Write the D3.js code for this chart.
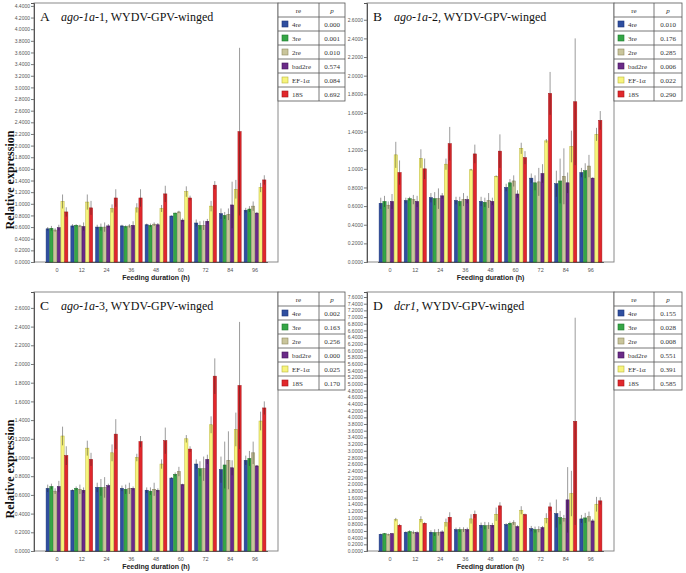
<!DOCTYPE html>
<html>
<head>
<meta charset="utf-8">
<script src="https://cdn.jsdelivr.net/npm/d3@7"></script>
<style>
  body { margin: 0; background: #fff; }
  svg { display: block; }
</style>
</head>
<body>
<svg id="chart" width="686" height="573"></svg>
<script>
// ---------------- DATA ----------------
const timepoints = ["0", "12", "24", "36", "48", "60", "72", "84", "96"];
const referenceGenes = ["4re", "3re", "2re", "bad2re", "EF-1α", "18S"];

// Panel A: ago-1a-1
const meansA = [
  [0.57, 0.58, 0.55, 0.59, 1.04, 0.86],
  [0.62, 0.63, 0.62, 0.61, 1.03, 0.93],
  [0.60, 0.60, 0.60, 0.62, 0.92, 1.10],
  [0.62, 0.61, 0.62, 0.63, 0.93, 1.10],
  [0.64, 0.63, 0.65, 0.64, 0.92, 1.17],
  [0.79, 0.84, 0.86, 0.72, 1.21, 1.10],
  [0.67, 0.63, 0.63, 0.70, 0.96, 1.32],
  [0.83, 0.80, 0.82, 0.98, 1.25, 2.24],
  [0.89, 0.91, 0.96, 0.84, 1.28, 1.41]
];
const errorsA = [
  [0.03, 0.04, 0.03, 0.05, 0.12, 0.08],
  [0.03, 0.02, 0.02, 0.07, 0.13, 0.12],
  [0.04, 0.06, 0.08, 0.03, 0.07, 0.15],
  [0.02, 0.02, 0.03, 0.07, 0.08, 0.15],
  [0.02, 0.03, 0.03, 0.03, 0.06, 0.14],
  [0.01, 0.01, 0.02, 0.03, 0.09, 0.04],
  [0.06, 0.07, 0.08, 0.04, 0.09, 0.07],
  [0.09, 0.06, 0.10, 0.40, 0.16, 1.44],
  [0.04, 0.05, 0.08, 0.02, 0.08, 0.08]
];
const pValuesA = ["0.000", "0.001", "0.010", "0.574", "0.084", "0.692"];

// Panel B: ago-1a-2
const meansB = [
  [0.63, 0.65, 0.61, 0.65, 1.15, 0.96],
  [0.66, 0.68, 0.67, 0.65, 1.11, 1.00],
  [0.69, 0.68, 0.68, 0.71, 1.05, 1.27],
  [0.66, 0.65, 0.67, 0.67, 0.99, 1.16],
  [0.65, 0.64, 0.66, 0.65, 0.92, 1.19],
  [0.80, 0.85, 0.87, 0.73, 1.22, 1.12],
  [0.90, 0.85, 0.86, 0.95, 1.30, 1.81],
  [0.84, 0.87, 0.92, 0.85, 1.24, 1.72],
  [0.96, 0.98, 1.03, 0.90, 1.37, 1.52]
];
const errorsB = [
  [0.06, 0.06, 0.04, 0.08, 0.14, 0.13],
  [0.03, 0.02, 0.05, 0.06, 0.10, 0.11],
  [0.05, 0.07, 0.11, 0.03, 0.06, 0.18],
  [0.04, 0.05, 0.07, 0.04, 0.01, 0.10],
  [0.05, 0.05, 0.08, 0.04, 0.01, 0.18],
  [0.04, 0.04, 0.06, 0.04, 0.06, 0.07],
  [0.05, 0.08, 0.15, 0.10, 0.02, 0.23],
  [0.14, 0.24, 0.30, 0.11, 0.17, 0.68],
  [0.05, 0.08, 0.12, 0.01, 0.07, 0.10]
];
const pValuesB = ["0.010", "0.176", "0.285", "0.006", "0.022", "0.290"];

// Panel C: ago-1a-3
const meansC = [
  [0.67, 0.69, 0.64, 0.69, 1.23, 1.02],
  [0.65, 0.67, 0.66, 0.65, 1.10, 0.98],
  [0.68, 0.68, 0.68, 0.70, 1.05, 1.25],
  [0.67, 0.66, 0.67, 0.67, 1.00, 1.17],
  [0.65, 0.64, 0.66, 0.65, 0.93, 1.18],
  [0.78, 0.82, 0.85, 0.71, 1.20, 1.09],
  [0.93, 0.88, 0.88, 0.98, 1.35, 1.87],
  [0.87, 0.92, 0.97, 0.89, 1.30, 1.77],
  [0.97, 0.99, 1.05, 0.91, 1.39, 1.53]
];
const errorsC = [
  [0.04, 0.03, 0.03, 0.06, 0.10, 0.10],
  [0.01, 0.02, 0.05, 0.03, 0.08, 0.07],
  [0.05, 0.09, 0.11, 0.02, 0.09, 0.16],
  [0.03, 0.05, 0.06, 0.02, 0.04, 0.06],
  [0.03, 0.04, 0.07, 0.02, 0.05, 0.14],
  [0.01, 0.02, 0.05, 0.01, 0.04, 0.03],
  [0.05, 0.08, 0.13, 0.05, 0.09, 0.19],
  [0.14, 0.25, 0.31, 0.08, 0.18, 0.68],
  [0.05, 0.08, 0.12, 0.01, 0.10, 0.07]
];
const pValuesC = ["0.002", "0.163", "0.256", "0.000", "0.025", "0.170"];

// Panel D: dcr1
const meansD = [
  [0.50, 0.52, 0.49, 0.52, 0.94, 0.77],
  [0.56, 0.58, 0.56, 0.55, 0.95, 0.83],
  [0.56, 0.55, 0.56, 0.57, 0.85, 1.01],
  [0.64, 0.64, 0.64, 0.64, 0.96, 1.10],
  [0.77, 0.76, 0.76, 0.77, 1.10, 1.35],
  [0.79, 0.83, 0.85, 0.73, 1.22, 1.09],
  [0.67, 0.64, 0.65, 0.70, 0.98, 1.32],
  [1.12, 1.00, 0.98, 1.53, 1.72, 3.88],
  [0.96, 0.99, 1.03, 0.90, 1.40, 1.50]
];
const errorsD = [
  [0.02, 0.02, 0.03, 0.02, 0.05, 0.04],
  [0.03, 0.04, 0.05, 0.04, 0.09, 0.03],
  [0.06, 0.10, 0.10, 0.05, 0.12, 0.15],
  [0.06, 0.07, 0.07, 0.06, 0.14, 0.11],
  [0.08, 0.11, 0.10, 0.07, 0.20, 0.11],
  [0.04, 0.05, 0.07, 0.04, 0.12, 0.03],
  [0.08, 0.09, 0.09, 0.05, 0.15, 0.13],
  [0.42, 0.20, 0.10, 0.98, 0.68, 3.10],
  [0.12, 0.15, 0.15, 0.06, 0.22, 0.11]
];
const pValuesD = ["0.155", "0.028", "0.008", "0.551", "0.391", "0.585"];

const yTickMaxA = 4.4, yTickMaxB = 2.6, yTickMaxC = 2.6, yTickMaxD = 7.6;

// ---------------- STYLE ----------------
const fills = ["#2f4fa0", "#35a646", "#c9c59b", "#6a2a88", "#f7f47c", "#e1272b"];
const strokes = ["#1d3577", "#1f7a2e", "#8f8a62", "#44165c", "#b9b640", "#a3151a"];

const svg = d3.select("#chart");
const serif = "'Liberation Serif', 'Times New Roman', serif";
const sans = "'Liberation Sans', Arial, sans-serif";

const panels = [
  { letter: "A", gene: "ago-1a", suffix: "-1", means: meansA, errs: errorsA, p: pValuesA,
    box: [34, 3, 278, 262], ymax: 4.45, tickMax: yTickMaxA, ylabel: true, legendX: 278, legendW: [41, 26] },
  { letter: "B", gene: "ago-1a", suffix: "-2", means: meansB, errs: errorsB, p: pValuesB,
    box: [367, 3, 614, 262], ymax: 2.78, tickMax: yTickMaxB, ylabel: false, legendX: 614, legendW: [40, 28] },
  { letter: "C", gene: "ago-1a", suffix: "-3", means: meansC, errs: errorsC, p: pValuesC,
    box: [34, 292, 278, 551], ymax: 2.77, tickMax: yTickMaxC, ylabel: true, legendX: 278, legendW: [41, 26] },
  { letter: "D", gene: "dcr1", suffix: "", means: meansD, errs: errorsD, p: pValuesD,
    box: [367, 292, 614, 551], ymax: 7.75, tickMax: yTickMaxD, ylabel: false, legendX: 614, legendW: [40, 28] }
];

panels.forEach(P => {
  const [l, t, r, b] = P.box;
  const g = svg.append("g");

  const x0 = d3.scaleBand().domain(timepoints)
    .range([l + 10.6, r - 10.6]).paddingInner(0.1).paddingOuter(0.05);
  const x1 = d3.scaleBand().domain(d3.range(referenceGenes.length))
    .range([0, x0.bandwidth()]).padding(0);
  const y = d3.scaleLinear().domain([0, P.ymax]).range([b, t]);

  // frame
  g.append("rect").attr("x", l).attr("y", t).attr("width", r - l).attr("height", b - t)
    .attr("fill", "#fff").attr("stroke", "#8a8a8a").attr("stroke-width", 1);

  // y axis
  const yAxis = d3.axisLeft(y)
    .tickValues(d3.range(0, P.tickMax + 1e-6, 0.2))
    .tickFormat(d3.format(".4f"))
    .tickSize(3).tickPadding(1);
  const ya = g.append("g").attr("transform", `translate(${l},0)`).call(yAxis);
  ya.select(".domain").attr("stroke", "#555");
  ya.selectAll(".tick line").attr("stroke", "#777");
  ya.selectAll(".tick text").attr("font-family", sans).attr("font-size", 5).attr("fill", "#555");

  // x axis
  const xAxis = d3.axisBottom(x0).tickSize(0).tickPadding(6);
  const xa = g.append("g").attr("transform", `translate(0,${b})`).call(xAxis);
  xa.select(".domain").attr("stroke", "#555");
  xa.selectAll(".tick text").attr("font-family", sans).attr("font-size", 5.5).attr("fill", "#555");

  // bars
  const groups = g.append("g").selectAll("g").data(timepoints).join("g")
    .attr("transform", d => `translate(${x0(d)},0)`);
  groups.each(function (tp, ti) {
    const gg = d3.select(this);
    const vals = P.means[ti].map((v, i) => ({ i, v, e: P.errs[ti][i] }));
    gg.selectAll("rect").data(vals).join("rect")
      .attr("x", d => x1(d.i) + 0.25)
      .attr("y", d => y(d.v))
      .attr("width", x1.bandwidth() - 0.5)
      .attr("height", d => y(0) - y(d.v))
      .attr("fill", d => fills[d.i])
      .attr("stroke", d => strokes[d.i])
      .attr("stroke-width", 0.5);
    gg.selectAll("line").data(vals).join("line")
      .attr("x1", d => x1(d.i) + x1.bandwidth() / 2)
      .attr("x2", d => x1(d.i) + x1.bandwidth() / 2)
      .attr("y1", d => y(Math.max(0, d.v - d.e)))
      .attr("y2", d => y(d.v + d.e))
      .attr("stroke", "#222").attr("stroke-opacity", 0.5).attr("stroke-width", 0.9);
  });

  // title
  const title = g.append("text").attr("x", l + 6).attr("y", t + 18)
    .attr("font-family", serif).attr("font-size", 13.5).attr("fill", "#111");
  title.append("tspan").text(P.letter);
  title.append("tspan").attr("x", l + 27).attr("font-size", 12).attr("font-style", "italic").text(P.gene);
  title.append("tspan").attr("font-size", 12).text(P.suffix + ", WYDV-GPV-winged");

  // x label
  g.append("text").attr("x", (l + r) / 2).attr("y", b + 18)
    .attr("text-anchor", "middle").attr("font-family", sans).attr("font-weight", "bold")
    .attr("font-size", 7).attr("fill", "#222").text("Feeding duration (h)");

  // y label
  if (P.ylabel) {
    g.append("text").attr("transform", `translate(14,${t + 177}) rotate(-90)`)
      .attr("text-anchor", "middle").attr("font-family", serif).attr("font-weight", "bold")
      .attr("font-size", 12).attr("fill", "#111").text("Relative expression");
  }

  // legend table
  const lx = P.legendX, ly = t, rowH = 14;
  const [c1, c2] = P.legendW;
  const lg = g.append("g");
  const nRows = referenceGenes.length + 1;
  lg.append("rect").attr("x", lx).attr("y", ly).attr("width", c1 + c2).attr("height", rowH * nRows)
    .attr("fill", "#fff").attr("stroke", "#555").attr("stroke-width", 0.8);
  lg.append("line").attr("x1", lx + c1).attr("x2", lx + c1).attr("y1", ly).attr("y2", ly + rowH * nRows)
    .attr("stroke", "#555").attr("stroke-width", 0.8);
  for (let k = 1; k < nRows; k++) {
    lg.append("line").attr("x1", lx).attr("x2", lx + c1 + c2)
      .attr("y1", ly + rowH * k).attr("y2", ly + rowH * k)
      .attr("stroke", "#555").attr("stroke-width", 0.8);
  }
  lg.append("text").attr("x", lx + c1 / 2).attr("y", ly + 9.5).attr("text-anchor", "middle")
    .attr("font-family", serif).attr("font-size", 7).attr("fill", "#333").text("re");
  lg.append("text").attr("x", lx + c1 + c2 / 2).attr("y", ly + 9.5).attr("text-anchor", "middle")
    .attr("font-family", serif).attr("font-style", "italic").attr("font-size", 7).attr("fill", "#333").text("p");
  referenceGenes.forEach((name, i) => {
    const ry = ly + rowH * (i + 1);
    lg.append("rect").attr("x", lx + 4).attr("y", ry + 4).attr("width", 6).attr("height", 6)
      .attr("fill", fills[i]).attr("stroke", strokes[i]).attr("stroke-width", 0.6);
    lg.append("text").attr("x", lx + 14).attr("y", ry + 9.5)
      .attr("font-family", serif).attr("font-size", 7).attr("fill", "#333").text(name);
    lg.append("text").attr("x", lx + c1 + c2 / 2).attr("y", ry + 9.5).attr("text-anchor", "middle")
      .attr("font-family", serif).attr("font-size", 7).attr("fill", "#333").text(P.p[i]);
  });
});
</script>
</body>
</html>
